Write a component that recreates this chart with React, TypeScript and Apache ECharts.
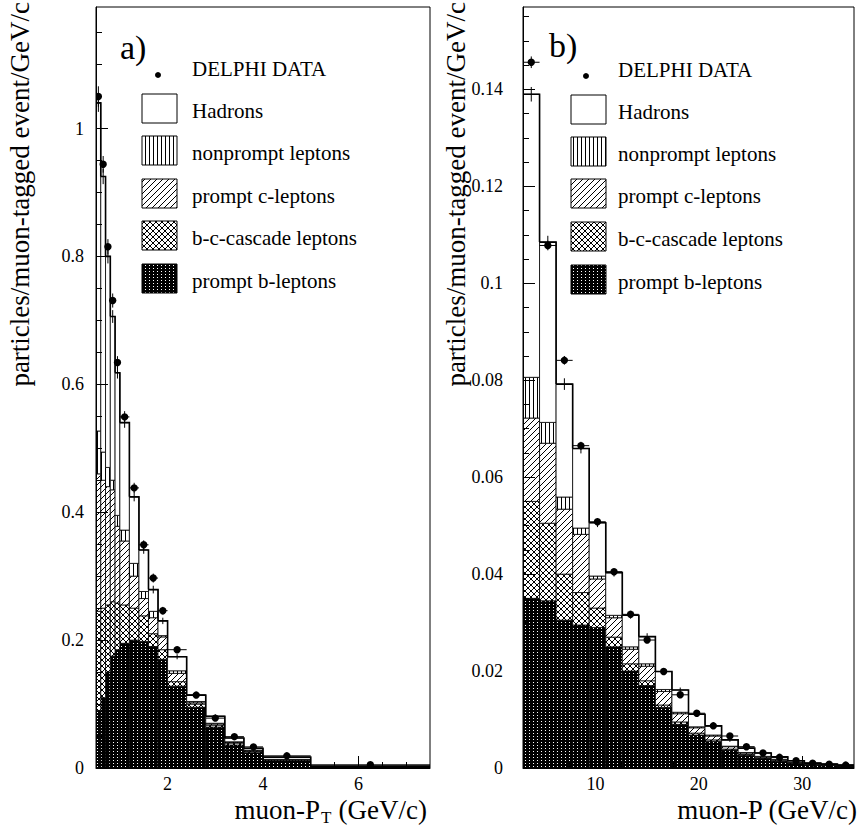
import React, { useEffect, useRef } from "react";
import * as echarts from "echarts";

const FONT = "Liberation Serif, Times New Roman, serif";

// ---------- panel a) : muon-PT ----------
const ptBinEdges = [0.5, 0.6, 0.7, 0.8, 0.9, 1.0, 1.2, 1.4, 1.6, 1.8, 2.0, 2.4, 2.8, 3.2, 3.6, 4.0, 5.0, 7.5];
const ptPromptB = [0.090, 0.110, 0.150, 0.175, 0.185, 0.195, 0.200, 0.198, 0.190, 0.170, 0.128, 0.095, 0.064, 0.036, 0.024, 0.011, 0.0015];
const ptCascade = [0.155, 0.140, 0.105, 0.085, 0.073, 0.060, 0.050, 0.040, 0.020, 0.015, 0.007, 0.005, 0.003, 0.003, 0.002, 0.0015, 0.0003];
const ptPromptC = [0.215, 0.200, 0.185, 0.175, 0.120, 0.100, 0.050, 0.027, 0.025, 0.020, 0.013, 0.002, 0.002, 0.001, 0.001, 0.0005, 0.0002];
const ptNonprompt = [0.067, 0.044, 0.030, 0.015, 0.017, 0.017, 0.020, 0.011, 0.010, 0.002, 0.004, 0.002, 0.001, 0.001, 0.001, 0.0005, 0.0002];
const ptHadrons = [0.513, 0.431, 0.330, 0.256, 0.223, 0.168, 0.104, 0.065, 0.034, 0.023, 0.022, 0.010, 0.011, 0.006, 0.003, 0.0035, 0.0008];
const ptMcErr = [0.014, 0.012, 0.011, 0.010, 0.009, 0.008, 0.007, 0.006, 0.006, 0.005, 0.004, 0.003, 0.003, 0.002, 0.002, 0.001, 0.001];
const ptData = [1.050, 0.944, 0.815, 0.731, 0.634, 0.549, 0.438, 0.349, 0.297, 0.246, 0.185, 0.114, 0.078, 0.049, 0.033, 0.019, 0.005];
const ptDataErr = [0.016, 0.013, 0.012, 0.011, 0.010, 0.009, 0.008, 0.007, 0.007, 0.006, 0.005, 0.004, 0.003, 0.003, 0.002, 0.002, 0.001];
const ptXMajorTicks = [2, 4, 6];
const ptXMinorTicks = [1, 1.5, 2.5, 3, 3.5, 4.5, 5, 5.5, 6.5, 7];
const ptYMajorTicks = [0, 0.2, 0.4, 0.6, 0.8, 1];

// ---------- panel b) : muon-P ----------
const pBinEdges = [3, 4.6, 6.2, 7.8, 9.4, 11, 12.6, 14.2, 15.8, 17.4, 19, 20.6, 22.2, 23.8, 25.4, 27, 28.6, 30.2, 31.8, 33.4, 35];
const pPromptB = [0.0350, 0.0345, 0.0305, 0.0295, 0.0290, 0.0250, 0.0200, 0.0170, 0.0125, 0.0090, 0.0068, 0.0055, 0.0037, 0.0026, 0.0020, 0.0014, 0.0009, 0.0006, 0.0005, 0.0003];
const pCascade = [0.0200, 0.0160, 0.0095, 0.0067, 0.0040, 0.0020, 0.0015, 0.0010, 0.0005, 0.0005, 0.0004, 0.0003, 0.0002, 0.0002, 0.0001, 0.0001, 0.0001, 0.0001, 0.0000, 0.00005];
const pPromptC = [0.0172, 0.0165, 0.0134, 0.0120, 0.0060, 0.0040, 0.0030, 0.0030, 0.0028, 0.0017, 0.0011, 0.0008, 0.0005, 0.0003, 0.0002, 0.0002, 0.0001, 0.0001, 0.0001, 0.00005];
const pNonprompt = [0.0084, 0.0043, 0.0025, 0.0013, 0.0006, 0.0005, 0.0005, 0.0005, 0.0004, 0.0003, 0.0002, 0.0002, 0.0001, 0.0001, 0.0001, 0.0001, 0.0001, 0.0000, 0.0000, 0.00005];
const pHadrons = [0.0584, 0.0372, 0.0233, 0.0164, 0.0110, 0.0088, 0.0065, 0.0056, 0.0037, 0.0046, 0.0026, 0.0019, 0.0013, 0.0009, 0.0007, 0.0005, 0.0003, 0.0002, 0.0002, 0.00015];
const pMcErr = [0.0015, 0.0013, 0.0012, 0.0010, 0.0009, 0.0008, 0.0007, 0.0007, 0.0006, 0.0005, 0.0005, 0.0004, 0.0004, 0.0003, 0.0003, 0.0002, 0.0002, 0.0002, 0.0001, 0.0001];
const pData = [0.1456, 0.1078, 0.0841, 0.0665, 0.0508, 0.0405, 0.0317, 0.0264, 0.0199, 0.0151, 0.0113, 0.0087, 0.0066, 0.0044, 0.0031, 0.0022, 0.0015, 0.0010, 0.0008, 0.0006];
const pDataErr = [0.0012, 0.0010, 0.0009, 0.0008, 0.0007, 0.0006, 0.0006, 0.0005, 0.0005, 0.0004, 0.0004, 0.0003, 0.0003, 0.0003, 0.0002, 0.0002, 0.0002, 0.0001, 0.0001, 0.0001];
const pXMajorTicks = [10, 20, 30];
const pXMinorTicks = [5, 7.5, 12.5, 15, 17.5, 22.5, 25, 27.5, 32.5];
const pYMajorTicks = [0, 0.02, 0.04, 0.06, 0.08, 0.1, 0.12, 0.14];

const legendLabels = ["Hadrons", "nonprompt leptons", "prompt c-leptons", "b-c-cascade leptons", "prompt b-leptons"];

function minorTicks(step: number, count: number, majorEvery: number): number[] {
  const out: number[] = [];
  for (let i = 1; i <= count; i++) {
    if (i % majorEvery !== 0) out.push(Math.round(i * step * 100000) / 100000);
  }
  return out;
}

function makeTile(kind: string) {
  let w = 6, h = 6;
  if (kind === "vert") { w = 4; h = 4; }
  if (kind === "dots") { w = 4; h = 3; }
  const c = document.createElement("canvas");
  c.width = w; c.height = h;
  const ctx = c.getContext("2d")!;
  ctx.fillStyle = "#fff";
  ctx.fillRect(0, 0, w, h);
  ctx.fillStyle = "#000";
  if (kind === "vert") ctx.fillRect(1, 0, 1, h);
  else if (kind === "diag") { for (let i = 0; i < w; i++) ctx.fillRect(i, h - 1 - i, 1, 1); }
  else if (kind === "cross") { for (let i = 0; i < w; i++) { ctx.fillRect(i, h - 1 - i, 1, 1); ctx.fillRect(i, i, 1, 1); } }
  else if (kind === "dots") { ctx.fillRect(0, 0, w, h); ctx.fillStyle = "#fff"; ctx.fillRect(1, 1, 1, 1); }
  return { image: c.toDataURL(), repeat: "repeat", imageWidth: w, imageHeight: h };
}

function buildOption() {
  const fills = [makeTile("dots"), makeTile("cross"), makeTile("diag"), makeTile("vert"), "#fff"];
  const legendFills = [fills[4], fills[3], fills[2], fills[1], fills[0]];

  const axisPair = (grid: number, min: number, max: number, major: number[], minor: number[]) => [
    {
      gridIndex: grid, type: "value", min, max, position: "bottom", z: 10,
      axisLine: { show: true, onZero: false, lineStyle: { color: "#000", width: 1 } },
      axisTick: { show: true, inside: true, length: 12, lineStyle: { color: "#000", width: 1 }, customValues: major },
      axisLabel: { show: true, customValues: major, color: "#000", fontFamily: FONT, fontSize: 18, margin: 7 },
      splitLine: { show: false },
    },
    {
      gridIndex: grid, type: "value", min, max, position: "bottom", z: 10,
      axisLine: { show: false },
      axisTick: { show: true, inside: true, length: 6, lineStyle: { color: "#000", width: 1 }, customValues: minor },
      axisLabel: { show: false },
      splitLine: { show: false },
    },
  ];
  const yPair = (grid: number, min: number, max: number, major: number[], minor: number[], margin: number) => [
    {
      gridIndex: grid, type: "value", min, max, position: "left", z: 10,
      axisLine: { show: true, onZero: false, lineStyle: { color: "#000", width: 1 } },
      axisTick: { show: true, inside: true, length: 12, lineStyle: { color: "#000", width: 1 }, customValues: major },
      axisLabel: { show: true, customValues: major, color: "#000", fontFamily: FONT, fontSize: 18, margin },
      splitLine: { show: false },
    },
    {
      gridIndex: grid, type: "value", min, max, position: "left", z: 10,
      axisLine: { show: false },
      axisTick: { show: true, inside: true, length: 6, lineStyle: { color: "#000", width: 1 }, customValues: minor },
      axisLabel: { show: false },
      splitLine: { show: false },
    },
  ];

  const panelSeries = (edges: number[], layers: number[][], mcErr: number[], data: number[], dataErr: number[], axisIdx: number) => {
    const series: any[] = [];
    const n = edges.length - 1;
    const base = new Array(n).fill(0);
    layers.forEach((layer, k) => {
      const items = layer.map((v, i) => {
        const item = [edges[i], edges[i + 1], base[i], base[i] + v];
        base[i] += v;
        return item;
      });
      const fill = fills[k];
      series.push({
        type: "custom", coordinateSystem: "cartesian2d", xAxisIndex: axisIdx, yAxisIndex: axisIdx,
        clip: true, silent: true, z: 2 + k * 0.01,
        data: items,
        renderItem: (params: any, api: any) => {
          const p0 = api.coord([api.value(0), api.value(2)]);
          const p1 = api.coord([api.value(1), api.value(3)]);
          return {
            type: "rect",
            shape: { x: p0[0], y: p1[1], width: p1[0] - p0[0], height: p0[1] - p1[1] },
            style: { fill, stroke: "#000", lineWidth: 0.8 },
          };
        },
      });
    });
    const totals = base.slice();
    series.push({
      type: "custom", coordinateSystem: "cartesian2d", xAxisIndex: axisIdx, yAxisIndex: axisIdx,
      clip: true, silent: true, z: 3,
      data: totals.map((t, i) => [edges[i], edges[i + 1], t, i + 1 < n ? totals[i + 1] : 0]),
      renderItem: (params: any, api: any) => {
        const a = api.coord([api.value(0), api.value(2)]);
        const b = api.coord([api.value(1), api.value(2)]);
        const c = api.coord([api.value(1), api.value(3)]);
        return { type: "polyline", shape: { points: [a, b, c] }, style: { fill: "none", stroke: "#000", lineWidth: 1.6 } };
      },
    });
    series.push({
      type: "custom", coordinateSystem: "cartesian2d", xAxisIndex: axisIdx, yAxisIndex: axisIdx,
      clip: true, silent: true, z: 4,
      data: totals.map((t, i) => [(edges[i] + edges[i + 1]) / 2, t, mcErr[i]]),
      renderItem: (params: any, api: any) => {
        const a = api.coord([api.value(0), api.value(1) - api.value(2)]);
        const b = api.coord([api.value(0), api.value(1) + api.value(2)]);
        return { type: "line", shape: { x1: a[0], y1: a[1], x2: b[0], y2: b[1] }, style: { stroke: "#000", lineWidth: 1 } };
      },
    });
    series.push({
      type: "custom", coordinateSystem: "cartesian2d", xAxisIndex: axisIdx, yAxisIndex: axisIdx,
      clip: true, silent: true, z: 5,
      data: data.map((v, i) => [edges[i], edges[i + 1], v, dataErr[i]]),
      renderItem: (params: any, api: any) => {
        const x0 = api.value(0), x1 = api.value(1), y = api.value(2), e = api.value(3);
        const xc = (x0 + x1) / 2;
        const l = api.coord([x0, y]);
        const r = api.coord([x1, y]);
        const lo = api.coord([xc, y - e]);
        const hi = api.coord([xc, y + e]);
        const c = api.coord([xc, y]);
        return {
          type: "group",
          children: [
            { type: "line", shape: { x1: l[0], y1: l[1], x2: r[0], y2: r[1] }, style: { stroke: "#000", lineWidth: 1 } },
            { type: "line", shape: { x1: lo[0], y1: lo[1], x2: hi[0], y2: hi[1] }, style: { stroke: "#000", lineWidth: 1 } },
            { type: "circle", shape: { cx: c[0], cy: c[1], r: 3.7 }, style: { fill: "#000" } },
          ],
        };
      },
    });
    return series;
  };

  const legend = (boxX: number, textX: number, dotX: number, dotY: number, titleY: number, rowTops: number[]) => {
    const els: any[] = [
      { type: "circle", shape: { cx: dotX, cy: dotY, r: 3 }, style: { fill: "#000" } },
      { type: "text", x: textX, y: titleY, style: { text: "DELPHI DATA", font: `21px ${FONT}`, fill: "#000", align: "left", verticalAlign: "middle" } },
    ];
    legendLabels.forEach((lab, i) => {
      els.push({ type: "rect", shape: { x: boxX, y: rowTops[i], width: 35, height: 29 }, style: { fill: legendFills[i], stroke: "#000", lineWidth: 1 } });
      els.push({ type: "text", x: textX, y: rowTops[i] + 17, style: { text: lab, font: `21px ${FONT}`, fill: "#000", align: "left", verticalAlign: "middle" } });
    });
    return els;
  };

  const ptLayers = [ptPromptB, ptCascade, ptPromptC, ptNonprompt, ptHadrons];
  const pLayers = [pPromptB, pCascade, pPromptC, pNonprompt, pHadrons];

  const titleFont = `27px ${FONT}`;

  return {
    animation: false,
    backgroundColor: "#fff",
    grid: [
      { left: 96, top: 7, width: 334, height: 761, show: true, borderColor: "#000", borderWidth: 1, backgroundColor: "transparent" },
      { left: 523, top: 7, width: 331, height: 761, show: true, borderColor: "#000", borderWidth: 1, backgroundColor: "transparent" },
    ],
    xAxis: [
      ...axisPair(0, 0.5, 7.5, ptXMajorTicks, ptXMinorTicks),
      ...axisPair(1, 3, 35, pXMajorTicks, pXMinorTicks),
    ],
    yAxis: [
      ...yPair(0, 0, 1.19, ptYMajorTicks, minorTicks(0.05, 23, 4), 12),
      ...yPair(1, 0, 0.157, pYMajorTicks, minorTicks(0.005, 31, 4), 20),
    ],
    series: [
      ...panelSeries(ptBinEdges, ptLayers, ptMcErr, ptData, ptDataErr, 0),
      ...panelSeries(pBinEdges, pLayers, pMcErr, pData, pDataErr, 2),
    ],
    graphic: [
      ...legend(142, 192, 158, 75, 69, [94, 136, 179, 221, 264]),
      ...legend(571, 618, 586, 76, 70, [95, 137, 179, 222, 265]),
      { type: "text", x: 120, y: 47, style: { text: "a)", font: `34px ${FONT}`, fill: "#000", align: "left", verticalAlign: "middle" } },
      { type: "text", x: 549, y: 45, style: { text: "b)", font: `34px ${FONT}`, fill: "#000", align: "left", verticalAlign: "middle" } },
      { type: "text", x: 20, y: 2, rotation: Math.PI / 2, style: { text: "particles/muon-tagged event/GeV/c", font: titleFont, fill: "#000", align: "right", verticalAlign: "middle" } },
      { type: "text", x: 456, y: 2, rotation: Math.PI / 2, style: { text: "particles/muon-tagged event/GeV/c", font: titleFont, fill: "#000", align: "right", verticalAlign: "middle" } },
      { type: "text", x: 320, y: 810, style: { text: "muon-P", font: titleFont, fill: "#000", align: "right", verticalAlign: "middle" } },
      { type: "text", x: 321, y: 817, style: { text: "T", font: `17px ${FONT}`, fill: "#000", align: "left", verticalAlign: "middle" } },
      { type: "text", x: 427, y: 810, style: { text: "(GeV/c)", font: titleFont, fill: "#000", align: "right", verticalAlign: "middle" } },
      { type: "text", x: 857, y: 810, style: { text: "muon-P (GeV/c)", font: titleFont, fill: "#000", align: "right", verticalAlign: "middle" } },
    ],
  };
}

export default function App() {
  const ref = useRef<HTMLDivElement>(null);
  useEffect(() => {
    if (!ref.current) return;
    const chart = echarts.init(ref.current, null, { renderer: "svg" });
    chart.setOption(buildOption() as any);
    return () => chart.dispose();
  }, []);
  return <div ref={ref} style={{ position: "absolute", left: 0, top: 0, width: 859, height: 831, background: "#fff" }} />;
}
